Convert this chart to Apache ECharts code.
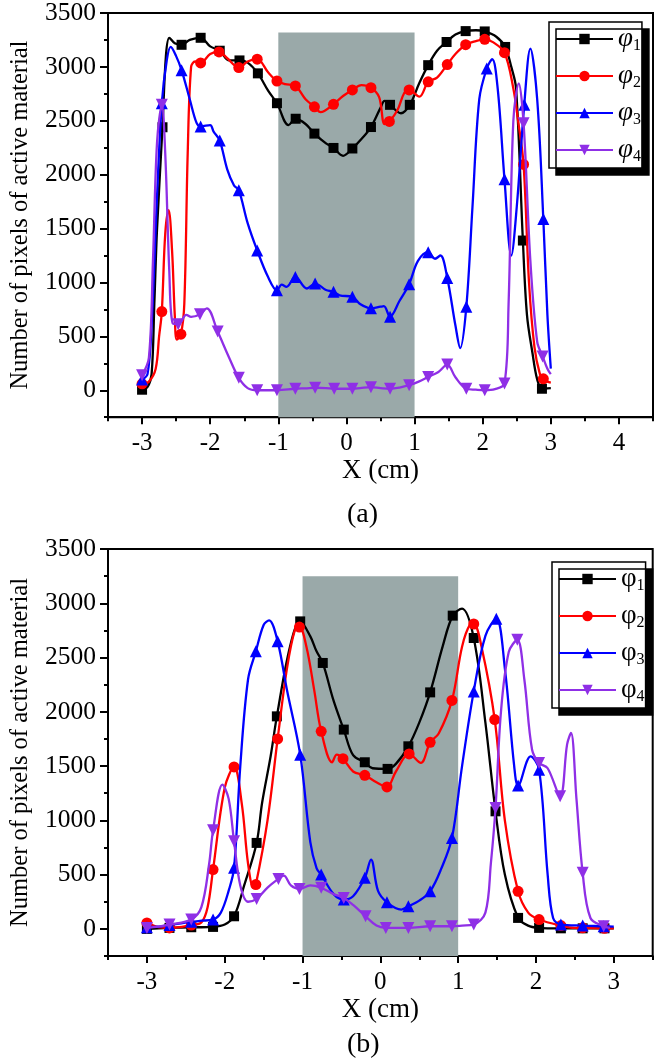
<!DOCTYPE html>
<html><head><meta charset="utf-8">
<script src="https://cdn.jsdelivr.net/npm/echarts@6/dist/echarts.min.js"></script>
<style>html,body{margin:0;padding:0;background:#fff}#c{width:657px;height:1063px}</style>
</head><body><div id="c"></div>
<script>
// ---------- Tick labels ----------
const topXTicks = [-3, -2, -1, 0, 1, 2, 3, 4];
const topXMinor = [-3.5, -2.5, -1.5, -0.5, 0.5, 1.5, 2.5, 3.5, 4.5];
const botXTicks = [-3, -2, -1, 0, 1, 2, 3];
const botXMinor = [-3.5, -2.5, -1.5, -0.5, 0.5, 1.5, 2.5, 3.5];
const yTicks = [0, 500, 1000, 1500, 2000, 2500, 3000, 3500];
const yMinor = [-250, 250, 750, 1250, 1750, 2250, 2750, 3250];
const seriesNames = ['1', '2', '3', '4'];

// ---------- Panel (a) ----------
const aPhi1Curve = [[-2.92,30],[-2.86,150],[-2.82,800],[-2.78,1500],[-2.65,3100],[-2.6,3270],[-2.52,3220],[-2.3,3250],[-2.0,3190],[-1.72,3060],[-1.45,3040],[-1.15,2780],[-0.85,2460],[-0.6,2470],[-0.3,2290],[-0.05,2175],[0.22,2330],[0.5,2620],[0.56,2685],[0.8,2570],[1.07,2850],[1.33,3150],[1.6,3300],[1.9,3340],[2.2,3280],[2.42,3000],[2.49,2800],[2.65,700],[2.73,348],[2.8,100],[2.95,18],[3.0,20]];
const aPhi1Marks = [[-3,5],[-2.7,2440],[-2.42,3205],[-2.14,3270],[-1.86,3150],[-1.57,3060],[-1.3,2940],[-1.02,2663],[-0.745,2519],[-0.47,2381],[-0.19,2248],[0.087,2243],[0.36,2442],[0.64,2648],[0.93,2648],[1.2,3016],[1.47,3231],[1.75,3332],[2.03,3329],[2.33,3185],[2.59,1389],[2.87,14]];

const aPhi2Curve = [[-2.9,80],[-2.8,200],[-2.75,500],[-2.66,1450],[-2.61,1670],[-2.56,1300],[-2.52,700],[-2.49,470],[-2.38,800],[-2.33,2200],[-2.28,3000],[-2.22,3050],[-2.0,3120],[-1.75,3080],[-1.45,3050],[-1.15,2950],[-0.9,2840],[-0.6,2700],[-0.38,2580],[-0.05,2730],[0.22,2830],[0.48,2720],[0.56,2470],[0.75,2600],[0.85,2760],[1.07,2724],[1.33,2900],[1.6,3120],[1.9,3240],[2.15,3230],[2.45,2800],[2.52,2500],[2.68,1000],[2.76,400],[2.84,150],[2.95,80],[3.0,70]];
const aPhi2Marks = [[-3,60],[-2.71,730],[-2.43,520],[-2.14,3037],[-1.87,3139],[-1.58,2994],[-1.31,3072],[-1.02,2869],[-0.75,2823],[-0.47,2630],[-0.19,2653],[0.087,2786],[0.36,2807],[0.63,2494],[0.92,2786],[1.2,2862],[1.48,3022],[1.75,3206],[2.03,3256],[2.32,3132],[2.6,2095],[2.89,106]];

const aPhi3Curve = [[-2.92,150],[-2.86,600],[-2.78,1800],[-2.64,3050],[-2.58,3185],[-2.5,3100],[-2.3,2700],[-2.2,2480],[-2.0,2460],[-1.95,2400],[-1.75,2050],[-1.65,1900],[-1.45,1550],[-1.15,1050],[-0.95,980],[-0.88,960],[-0.58,944],[-0.3,930],[-0.1,880],[0.2,800],[0.5,775],[0.55,780],[0.78,830],[1.05,1200],[1.3,1220],[1.38,1250],[1.6,600],[1.67,391],[1.85,1700],[1.95,2700],[2.14,3071],[2.22,2800],[2.42,1250],[2.5,1700],[2.7,3170],[2.8,2700],[2.95,700],[3.0,200]];
const aPhi3Marks = [[-3,100],[-2.71,2663],[-2.42,2970],[-2.14,2448],[-1.86,2316],[-1.58,1856],[-1.31,1297],[-1.02,928],[-0.75,1051],[-0.46,990],[-0.19,913],[0.087,867],[0.36,760],[0.64,683],[0.92,984],[1.2,1281],[1.48,1042],[1.76,775],[2.06,2985],[2.32,1957],[2.61,2648],[2.89,1589]];

const aPhi4Curve = [[-2.9,300],[-2.84,1200],[-2.78,2300],[-2.66,2200],[-2.6,1100],[-2.55,620],[-2.35,700],[-2.28,680],[-2.05,760],[-1.72,300],[-1.45,20],[-1.15,0],[-0.6,18],[-0.3,20],[0.2,20],[0.5,20],[0.78,25],[1.06,80],[1.35,170],[1.6,120],[1.9,5],[2.18,10],[2.38,800],[2.45,2500],[2.53,2847],[2.7,1200],[2.8,450],[2.95,200],[3.0,150]];
const aPhi4Marks = [[-3,139],[-2.71,2648],[-2.47,612],[-2.15,705],[-1.89,545],[-1.58,115],[-1.31,0],[-1.02,0],[-0.75,14],[-0.46,23],[-0.18,14],[0.087,14],[0.36,29],[0.64,14],[0.92,47],[1.2,124],[1.48,238],[1.76,14],[2.03,0],[2.32,63],[2.6,2478],[2.88,314]];

// ---------- Panel (b) ----------
const bPhi1Curve = [[-2.85,5],[-2.3,15],[-2.0,40],[-1.75,400],[-1.52,1160],[-1.41,1590],[-1.16,2603],[-0.9,2695],[-0.82,2557],[-0.6,2100],[-0.35,1600],[-0.1,1480],[0.2,1520],[0.5,1900],[0.8,2600],[1.05,2950],[1.35,1900],[1.6,500],[1.9,30],[2.2,5],[3.0,5]];
const bPhi1Marks = [[-3,0],[-2.71,9],[-2.43,15],[-2.15,18],[-1.88,116],[-1.59,792],[-1.33,1958],[-1.03,2833],[-0.74,2450],[-0.47,1836],[-0.2,1535],[0.093,1474],[0.36,1682],[0.64,2179],[0.93,2886],[1.2,2680],[1.48,1083],[1.77,101],[2.04,9],[2.32,5],[2.6,5],[2.88,5]];

const bPhi2Curve = [[-2.85,15],[-2.3,60],[-2.22,200],[-2.0,1300],[-1.78,1150],[-1.7,600],[-1.63,378],[-1.45,1000],[-1.2,2400],[-1.1,2750],[-0.95,2600],[-0.85,2200],[-0.62,1535],[-0.56,1605],[-0.35,1450],[-0.05,1350],[0.2,1450],[0.52,1529],[0.75,1800],[1.05,2600],[1.15,2800],[1.3,2600],[1.6,1000],[1.9,150],[2.5,10],[3.0,5]];
const bPhi2Marks = [[-3,55],[-2.71,9],[-2.43,35],[-2.15,546],[-1.88,1492],[-1.6,408],[-1.32,1750],[-1.04,2781],[-0.76,1820],[-0.48,1568],[-0.2,1415],[0.085,1308],[0.37,1612],[0.64,1719],[0.92,2105],[1.2,2809],[1.47,1928],[1.77,346],[2.04,86],[2.32,30],[2.6,10],[2.88,5]];

const bPhi3Curve = [[-2.85,20],[-2.3,75],[-2.05,150],[-1.95,350],[-1.8,1500],[-1.7,2300],[-1.5,2800],[-1.43,2842],[-1.2,2200],[-0.9,800],[-0.82,560],[-0.6,320],[-0.35,300],[-0.12,638],[-0.03,350],[0.27,178],[0.5,260],[0.78,550],[1.05,1500],[1.35,2700],[1.6,2400],[1.72,1500],[1.93,1590],[2.15,500],[2.22,100],[3.0,20]];
const bPhi3Marks = [[-3,15],[-2.71,35],[-2.43,65],[-2.15,86],[-1.88,562],[-1.6,2557],[-1.32,2649],[-1.03,1605],[-0.76,500],[-0.47,270],[-0.2,470],[0.085,245],[0.36,208],[0.64,346],[0.92,838],[1.2,2188],[1.49,2858],[1.77,1320],[2.04,1467],[2.32,40],[2.6,30],[2.87,24]];

const bPhi4Curve = [[-2.85,20],[-2.3,200],[-2.2,600],[-2.03,1329],[-1.95,1200],[-1.8,400],[-1.7,250],[-1.45,380],[-1.24,490],[-1.15,400],[-0.9,400],[-0.6,320],[-0.35,220],[-0.05,30],[0.2,10],[1.05,30],[1.35,150],[1.42,600],[1.55,2000],[1.65,2550],[1.85,2300],[1.95,1650],[2.15,1480],[2.4,1700],[2.45,1805],[2.52,1200],[2.7,100],[2.95,10]];
const bPhi4Marks = [[-3,9],[-2.71,40],[-2.43,86],[-2.15,908],[-1.88,807],[-1.59,276],[-1.31,460],[-1.04,368],[-0.76,378],[-0.47,285],[-0.19,116],[0.07,9],[0.36,9],[0.64,24],[0.92,24],[1.2,40],[1.48,1114],[1.76,2664],[2.04,1529],[2.31,1221],[2.6,516],[2.87,24]];

// shaded region [x0, x1, yTop]
const aShade = [-1, 1, 3320];
const bShade = [-1, 1, 3250];

// ---------- Build ----------
const FONT = "'Liberation Serif','Times New Roman',serif";
const colors = ['#000000', '#ff0000', '#0000ff', '#8f2fe6'];
const symbols = ['rect', 'circle', 'triangle', 'triangle'];
const symSizes = [10, 11, 12, 12];
const rotates = [0, 0, 0, 180];

function merge(curve, marks) {
  const pts = curve.map(p => ({ value: p, symbol: 'none' }))
    .concat(marks.map(p => ({ value: p })));
  pts.sort((a, b) => a.value[0] - b.value[0]);
  return pts;
}

const chart = echarts.init(document.getElementById('c'), null, { renderer: 'canvas' });

const grids = [
  { left: 102.5, right: 4, top: 10.7, height: 406.5 },
  { left: 103.3, right: 4.3, top: 549, height: 407 }
];

function xAxes(gi, min, max, ticks, minor) {
  return [
    {
      type: 'value', gridIndex: gi, min: min, max: max, position: 'bottom',
      name: 'X (cm)', nameLocation: 'middle', nameGap: 40,
      nameTextStyle: { fontFamily: FONT, fontSize: 27, color: '#000' },
      axisLine: { show: true, onZero: false, lineStyle: { color: '#000', width: 2 } },
      axisTick: { show: true, customValues: ticks, length: 7, lineStyle: { color: '#000', width: 2 } },
      axisLabel: { show: true, customValues: ticks, margin: 14, fontFamily: FONT, fontSize: 25, color: '#000',
        formatter: v => String(v) },
      splitLine: { show: false }
    },
    {
      type: 'value', gridIndex: gi, min: min, max: max, position: 'bottom',
      axisLine: { show: false, onZero: false },
      axisTick: { show: true, customValues: minor, length: 4, lineStyle: { color: '#000', width: 2 } },
      axisLabel: { show: false }, splitLine: { show: false }
    }
  ];
}
function yAxes(gi) {
  return [
    {
      type: 'value', gridIndex: gi, min: -250, max: 3500, position: 'left',
      name: 'Number of pixels of active material', nameLocation: 'middle', nameGap: 75,
      nameTextStyle: { fontFamily: FONT, fontSize: 24.5, color: '#000' },
      axisLine: { show: true, onZero: false, lineStyle: { color: '#000', width: 2 } },
      axisTick: { show: true, customValues: yTicks, length: 8, lineStyle: { color: '#000', width: 2 } },
      axisLabel: { show: true, customValues: yTicks, margin: 12, fontFamily: FONT, fontSize: 25.5, color: '#000',
        formatter: v => String(v) },
      splitLine: { show: false }
    },
    {
      type: 'value', gridIndex: gi, min: -250, max: 3500, position: 'left',
      axisLine: { show: false, onZero: false },
      axisTick: { show: true, customValues: yMinor, length: 4, lineStyle: { color: '#000', width: 2 } },
      axisLabel: { show: false }, splitLine: { show: false }
    }
  ];
}

const panels = [
  { key: 'a', data: [[aPhi1Curve, aPhi1Marks], [aPhi2Curve, aPhi2Marks], [aPhi3Curve, aPhi3Marks], [aPhi4Curve, aPhi4Marks]], shade: aShade },
  { key: 'b', data: [[bPhi1Curve, bPhi1Marks], [bPhi2Curve, bPhi2Marks], [bPhi3Curve, bPhi3Marks], [bPhi4Curve, bPhi4Marks]], shade: bShade }
];

const series = [];
panels.forEach((p, gi) => {
  series.push({
    type: 'line', name: 'shade' + p.key, xAxisIndex: gi * 2, yAxisIndex: gi * 2, data: [], z: 1, silent: true,
    markArea: { silent: true, itemStyle: { color: '#9aa9a9', opacity: 1 },
      data: [[{ xAxis: p.shade[0], yAxis: -250 }, { xAxis: p.shade[1], yAxis: p.shade[2] }]] }
  });
  p.data.forEach((d, si) => {
    series.push({
      type: 'line', name: p.key + seriesNames[si], xAxisIndex: gi * 2, yAxisIndex: gi * 2,
      data: merge(d[0], d[1]), smooth: 0.35, z: 3 + si,
      symbol: symbols[si], symbolSize: symSizes[si], symbolRotate: rotates[si], showSymbol: true,
      lineStyle: { color: colors[si], width: 2.3 },
      itemStyle: { color: colors[si], borderWidth: 0 },
      emphasis: { disabled: true }, animation: false
    });
  });
});

function legend(key, left, top, italic) {
  return {
    orient: 'vertical', left: left, top: top,
    data: seriesNames.map(n => key + n),
    itemWidth: 57, itemHeight: 13, itemGap: 7,
    padding: [2, 1, 3, 6],
    backgroundColor: '#fff', borderColor: '#000', borderWidth: 1.5,
    shadowColor: '#000', shadowBlur: 0, shadowOffsetX: 7, shadowOffsetY: 7,
    selectedMode: false,
    formatter: name => '{p|φ}{s|' + name.slice(1) + '}',
    textStyle: {
      color: '#000',
      rich: {
        p: { fontFamily: FONT, fontSize: 27, fontStyle: italic ? 'italic' : 'normal', lineHeight: 30, color: '#000' },
        s: { fontFamily: FONT, fontSize: 16, lineHeight: 30, padding: [14, 0, 0, 0], verticalAlign: 'bottom', color: '#000' }
      }
    }
  };
}

const option = {
  animation: false,
  backgroundColor: '#fff',
  grid: grids.map(g => Object.assign({ show: true, borderColor: '#000', borderWidth: 2, backgroundColor: 'transparent', containLabel: false }, g)),
  xAxis: xAxes(0, -3.5, 4.5, topXTicks, topXMinor).concat(xAxes(1, -3.5, 3.5, botXTicks, botXMinor)),
  yAxis: yAxes(0).concat(yAxes(1)),
  legend: [legend('a', 549, 22, true), legend('b', 552, 562, false)],
  title: [
    { text: '(a)', left: 342, top: 496, textStyle: { fontFamily: FONT, fontSize: 28, fontWeight: 'normal', color: '#000' } },
    { text: '(b)', left: 342, top: 1026, textStyle: { fontFamily: FONT, fontSize: 28, fontWeight: 'normal', color: '#000' } }
  ],
  series: series
};
chart.setOption(option);
</script></body></html>
